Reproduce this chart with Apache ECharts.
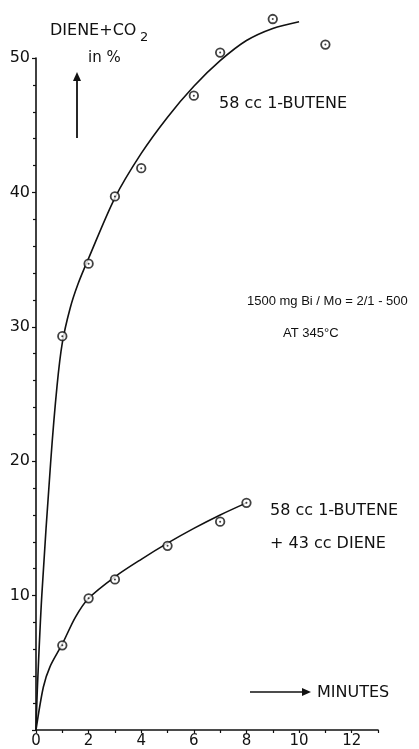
<!DOCTYPE html>
<html>
<head>
<meta charset="utf-8">
<script src="https://cdn.jsdelivr.net/npm/echarts@6/dist/echarts.min.js"></script>
<style>
  html, body { margin: 0; padding: 0; background: #fff; }
  #chart { width: 419px; height: 749px; }
</style>
</head>
<body>
<div id="chart"></div>
<script>
// Measured conversion: 58 cc 1-butene alone (upper) and with 43 cc diene added (lower)
const butenePoints = [[1, 29.3], [2, 34.7], [3, 39.7], [4, 41.8], [6, 47.2], [7, 50.4], [9, 52.9], [11, 51.0]];
const mixPoints = [[1, 6.3], [2, 9.8], [3, 11.2], [5, 13.7], [7, 15.5], [8, 16.9]];

// Hand-drawn fit curves through the measurements
const buteneCurve = [[0, 0], [0.05, 3], [0.22, 10], [0.56, 20], [0.8, 25.6], [1, 28.8], [1.3, 31.4], [1.6, 33.2],
  [2, 35.1], [3, 39.6], [4, 42.9], [5, 45.6], [6, 47.9], [7, 49.8], [8, 51.3], [9, 52.2], [10, 52.7]];
const mixCurve = [[0, 0], [0.28, 3.2], [0.53, 4.7], [1, 6.4], [1.5, 8.4], [2, 9.8], [3, 11.4], [4, 12.7],
  [5, 13.9], [6, 15.0], [7, 16.0], [8, 16.9]];

const xTicks = [0, 2, 4, 6, 8, 10, 12];
const yTicks = [10, 20, 30, 40, 50];

const FONT = 'DejaVu Sans';
const INK = '#111';

const chart = echarts.init(document.getElementById('chart'), null, { renderer: 'canvas' });

function curveSeries(data) {
  return {
    type: 'line', data: data, smooth: 0.3, showSymbol: false, clip: false,
    lineStyle: { color: INK, width: 1.6 }, z: 2, silent: true
  };
}
function ringSeries(data) {
  return {
    type: 'scatter', data: data, symbol: 'circle', symbolSize: 8.5, clip: false,
    itemStyle: { color: '#fff', borderColor: INK, borderWidth: 1.8 }, z: 3, silent: true
  };
}
function dotSeries(data) {
  return {
    type: 'scatter', data: data, symbol: 'circle', symbolSize: 2, clip: false,
    itemStyle: { color: INK }, z: 4, silent: true
  };
}

function arrowHead(x, y, dir) {
  // dir: 'up' or 'right'; (x, y) is the tip
  const pts = dir === 'up'
    ? [[x, y], [x - 4, y + 9], [x + 4, y + 9]]
    : [[x, y], [x - 9, y - 4], [x - 9, y + 4]];
  return { type: 'polygon', shape: { points: pts }, style: { fill: INK } };
}

function label(text, x, y, size, family) {
  return {
    type: 'text', x: x, y: y,
    style: { text: text, font: size + 'px "' + (family || FONT) + '"', fill: INK, textVerticalAlign: 'middle' }
  };
}

chart.setOption({
  animation: false,
  backgroundColor: '#fff',
  grid: { left: 36, right: 41, top: 58, bottom: 16, containLabel: false },
  xAxis: {
    type: 'value', min: 0, max: 13, interval: 2,
    axisLine: { lineStyle: { color: INK, width: 1.6 } },
    axisTick: { show: true, length: 3, lineStyle: { color: INK, width: 1.2 } },
    minorTick: { show: true, splitNumber: 2, length: 3, lineStyle: { color: INK, width: 1.2 } },
    splitLine: { show: false },
    axisLabel: {
      color: INK, fontFamily: FONT, fontSize: 15, margin: 4, showMaxLabel: false,
      formatter: v => (xTicks.indexOf(v) >= 0 ? String(v) : '')
    }
  },
  yAxis: {
    type: 'value', min: 0, max: 50, interval: 10,
    axisLine: { lineStyle: { color: INK, width: 1.6 } },
    axisTick: { show: true, length: 4, lineStyle: { color: INK, width: 1.2 } },
    minorTick: { show: true, splitNumber: 5, length: 3, lineStyle: { color: INK, width: 1.2 } },
    splitLine: { show: false },
    axisLabel: {
      color: INK, fontFamily: FONT, fontSize: 16, margin: 6, showMinLabel: false,
      formatter: v => (yTicks.indexOf(v) >= 0 ? String(v) : '')
    }
  },
  series: [
    curveSeries(buteneCurve),
    curveSeries(mixCurve),
    ringSeries(butenePoints),
    ringSeries(mixPoints),
    dotSeries(butenePoints),
    dotSeries(mixPoints)
  ],
  graphic: [
    label('DIENE+CO', 50, 31, 16),
    label('2', 140, 38, 13),
    label('in %', 88, 58, 15),
    { type: 'line', shape: { x1: 77, y1: 138, x2: 77, y2: 80 }, style: { stroke: INK, lineWidth: 1.8 } },
    arrowHead(77, 72, 'up'),
    label('58 cc 1-BUTENE', 219, 104, 16),
    label('1500 mg Bi / Mo = 2/1 - 500', 247, 301, 13, 'Liberation Sans'),
    label('AT 345°C', 283, 333, 13, 'Liberation Sans'),
    label('58 cc 1-BUTENE', 270, 511, 16),
    label('+ 43 cc DIENE', 270, 544, 16),
    { type: 'line', shape: { x1: 250, y1: 692, x2: 303, y2: 692 }, style: { stroke: INK, lineWidth: 1.6 } },
    arrowHead(311, 692, 'right'),
    label('MINUTES', 317, 693, 16)
  ]
});
</script>
</body>
</html>
